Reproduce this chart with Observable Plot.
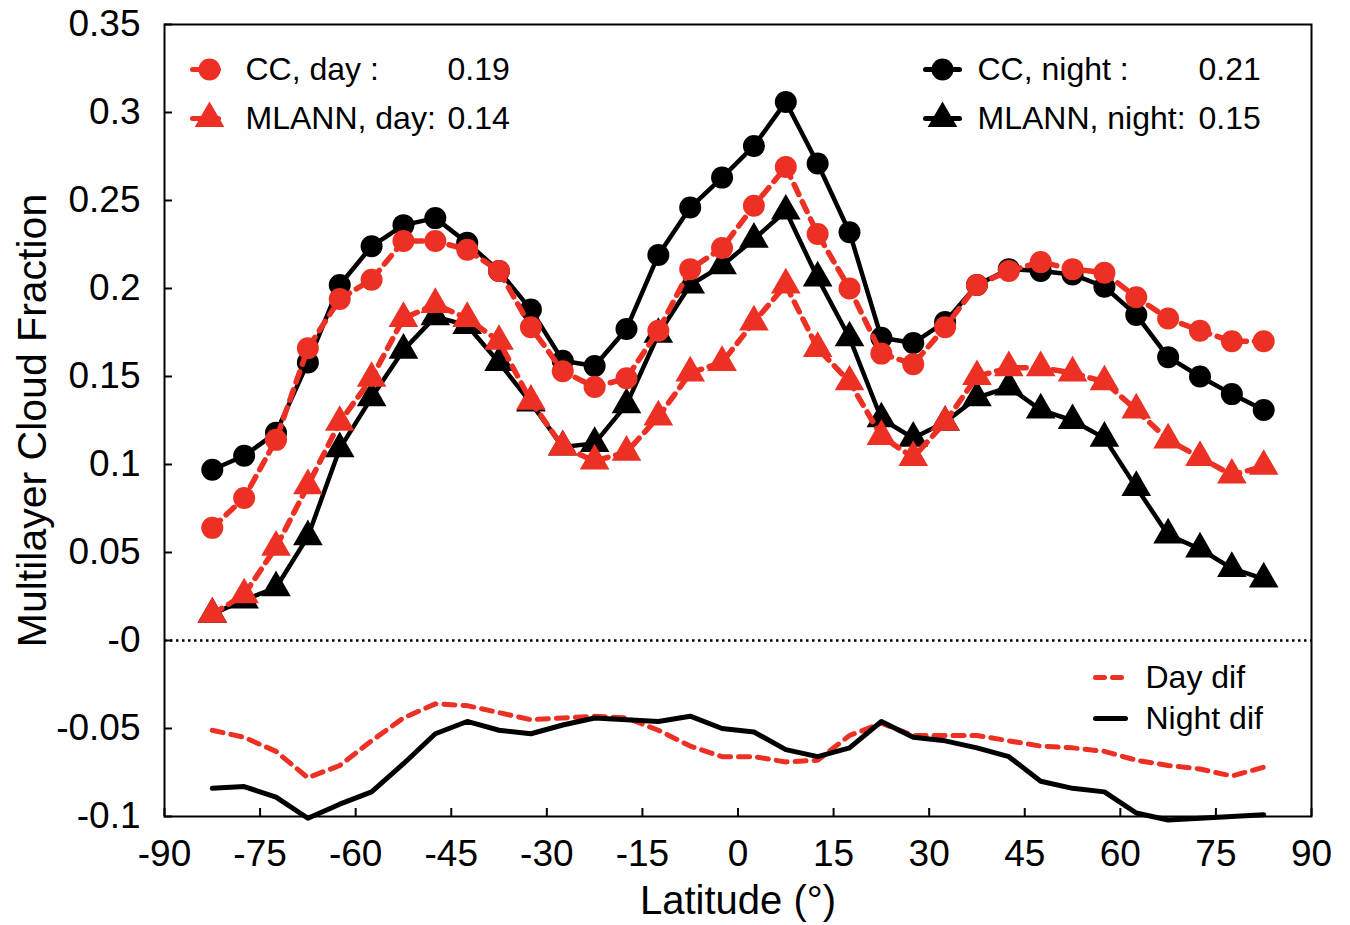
<!DOCTYPE html>
<html><head><meta charset="utf-8">
<script src="https://cdn.jsdelivr.net/npm/d3@7"></script>
<script src="https://cdn.jsdelivr.net/npm/@observablehq/plot@0.6"></script>
<style>html,body{margin:0;padding:0;background:#fff;} #chart{width:1350px;height:925px;}</style>
</head><body><div id="chart"></div>
<script>
const lat = [-82.5,-77.5,-72.5,-67.5,-62.5,-57.5,-52.5,-47.5,-42.5,-37.5,-32.5,-27.5,-22.5,-17.5,-12.5,-7.5,-2.5,
             2.5,7.5,12.5,17.5,22.5,27.5,32.5,37.5,42.5,47.5,52.5,57.5,62.5,67.5,72.5,77.5,82.5];
const ccNight = [0.097,0.105,0.118,0.158,0.202,0.224,0.236,0.240,0.226,0.210,0.188,0.159,0.156,0.177,0.219,0.246,0.263,
                 0.281,0.306,0.271,0.232,0.172,0.169,0.181,0.202,0.211,0.210,0.208,0.201,0.185,0.161,0.150,0.140,0.131];
const ccDay = [0.064,0.081,0.114,0.166,0.194,0.205,0.227,0.227,0.222,0.210,0.178,0.153,0.144,0.149,0.176,0.211,0.223,
               0.247,0.269,0.231,0.200,0.163,0.157,0.178,0.202,0.210,0.215,0.211,0.209,0.195,0.183,0.176,0.170,0.170];
const mlannNight = [0.015,0.023,0.030,0.059,0.109,0.138,0.165,0.184,0.179,0.158,0.135,0.110,0.112,0.134,0.174,0.202,0.213,
                    0.228,0.244,0.206,0.172,0.126,0.115,0.124,0.138,0.144,0.131,0.125,0.115,0.087,0.060,0.052,0.041,0.035];
const mlannDay = [0.015,0.026,0.053,0.088,0.124,0.149,0.183,0.191,0.183,0.170,0.136,0.110,0.102,0.107,0.127,0.152,0.158,
                  0.181,0.202,0.166,0.147,0.116,0.104,0.124,0.150,0.155,0.155,0.152,0.147,0.131,0.114,0.104,0.094,0.099];
const difDay = [-0.051,-0.055,-0.063,-0.078,-0.071,-0.057,-0.044,-0.036,-0.037,-0.041,-0.045,-0.044,-0.043,-0.044,-0.051,-0.060,-0.066,
                -0.066,-0.069,-0.068,-0.054,-0.047,-0.054,-0.054,-0.054,-0.057,-0.060,-0.061,-0.063,-0.068,-0.071,-0.073,-0.077,-0.072];
const difNight = [-0.084,-0.083,-0.089,-0.101,-0.093,-0.086,-0.070,-0.053,-0.046,-0.051,-0.053,-0.048,-0.044,-0.045,-0.046,-0.043,-0.050,
                  -0.052,-0.062,-0.066,-0.061,-0.046,-0.055,-0.057,-0.061,-0.066,-0.080,-0.084,-0.086,-0.098,-0.102,-0.101,-0.100,-0.099];

const xTicks = [-90,-75,-60,-45,-30,-15,0,15,30,45,60,75,90];
const xTickLabels = ["-90","-75","-60","-45","-30","-15","0","15","30","45","60","75","90"];
const yTicks = [-0.1,-0.05,0,0.05,0.1,0.15,0.2,0.25,0.3,0.35];
const yTickLabels = ["-0.1","-0.05","-0","0.05","0.1","0.15","0.2","0.25","0.3","0.35"];

const xLabel = "Latitude (°)";
const yLabel = "Multilayer Cloud Fraction";
const legendDayLabels = ["CC, day :", "MLANN, day:"];
const legendDayValues = ["0.19", "0.14"];
const legendNightLabels = ["CC, night :", "MLANN, night:"];
const legendNightValues = ["0.21", "0.15"];
const legendDifLabels = ["Day dif", "Night dif"];

const RED = "#ec3024";
const FONT = "'Liberation Sans', Arial, Helvetica, sans-serif";
const rows = vals => lat.map((x, i) => ({lat: x, v: vals[i]}));
const lineShape = {draw(ctx, l) { ctx.moveTo(0, 0); ctx.lineTo(0, -l); }};

function legendMarker(symbol, color, dx, dy, dashed, len = 34) {
  return [
    Plot.vector([0], {x: null, y: null, frameAnchor: "top-left", dx, dy, length: len, rotate: 90, anchor: "middle",
      shape: lineShape, stroke: color, strokeWidth: 5, strokeDasharray: dashed ? "9,8" : null}),
    symbol ? Plot.dot([0], {x: null, y: null, frameAnchor: "top-left", dx, dy, r: 11, symbol, fill: color, stroke: "none"}) : null
  ];
}
function legendText(t, dx, dy, size = 32) {
  return Plot.text([t], {x: null, y: null, frameAnchor: "top-left", dx, dy, text: d => d, textAnchor: "start",
    lineAnchor: "middle", fontSize: size, fill: "black"});
}

const series = (vals, color, symbol, dashed) => [
  Plot.line(rows(vals), {x: "lat", y: "v", stroke: color, strokeWidth: dashed ? 5.5 : 4.5,
    strokeDasharray: dashed ? "11,8" : null}),
  Plot.dot(rows(vals), {x: "lat", y: "v", r: 11, symbol, fill: color, stroke: "none"})
];

const chart = Plot.plot({
  width: 1350, height: 925,
  marginLeft: 164, marginRight: 39, marginTop: 24, marginBottom: 109,
  style: {fontFamily: FONT, fontSize: "32px", background: "white", color: "black", overflow: "visible"},
  x: {domain: [-90, 90]},
  y: {domain: [-0.1, 0.35]},
  marks: [
    Plot.ruleY([0], {stroke: "black", strokeWidth: 2.5, strokeDasharray: "2.5,3.5"}),
    Plot.line(rows(difDay), {x: "lat", y: "v", stroke: RED, strokeWidth: 5, strokeDasharray: "11,8"}),
    Plot.line(rows(difNight), {x: "lat", y: "v", stroke: "black", strokeWidth: 5}),
    ...series(ccNight, "black", "circle", false),
    ...series(mlannNight, "black", "triangle", false),
    ...series(ccDay, RED, "circle", true),
    ...series(mlannDay, RED, "triangle", true),
    Plot.frame({stroke: "black", strokeWidth: 2}),
    Plot.axisX(xTicks, {tickSize: -8, tickPadding: 31, strokeWidth: 2, fontSize: 37, label: null,
      tickFormat: d => xTickLabels[xTicks.indexOf(d)]}),
    Plot.axisY(yTicks, {tickSize: -8, tickPadding: 32, strokeWidth: 2, fontSize: 37, label: null,
      tickFormat: d => yTickLabels[yTicks.findIndex(t => Math.abs(t - d) < 1e-9)]}),
    Plot.text([xLabel], {x: null, y: null, frameAnchor: "bottom", dy: 85, text: d => d, fontSize: 40,
      textAnchor: "middle", lineAnchor: "middle"}),
    Plot.text([yLabel], {x: null, y: null, frameAnchor: "left", dx: -132, rotate: -90, text: d => d, fontSize: 41,
      textAnchor: "middle", lineAnchor: "middle"}),
    // legends
    ...legendMarker("circle", RED, 45, 45, true),
    ...legendMarker("triangle", RED, 45, 94, true),
    legendText(legendDayLabels[0], 81, 45), legendText(legendDayValues[0], 283, 45),
    legendText(legendDayLabels[1], 81, 94), legendText(legendDayValues[1], 283, 94),
    ...legendMarker("circle", "black", 778, 45, false),
    ...legendMarker("triangle", "black", 778, 94, false),
    legendText(legendNightLabels[0], 813, 45), legendText(legendNightValues[0], 1034, 45),
    legendText(legendNightLabels[1], 813, 94), legendText(legendNightValues[1], 1034, 94),
    ...legendMarker(null, RED, 946, 653, true, 30),
    ...legendMarker(null, "black", 946, 694, false, 30),
    legendText(legendDifLabels[0], 981, 653), legendText(legendDifLabels[1], 981, 694)
  ]
});
document.getElementById("chart").appendChild(chart);
</script>
</body></html>
